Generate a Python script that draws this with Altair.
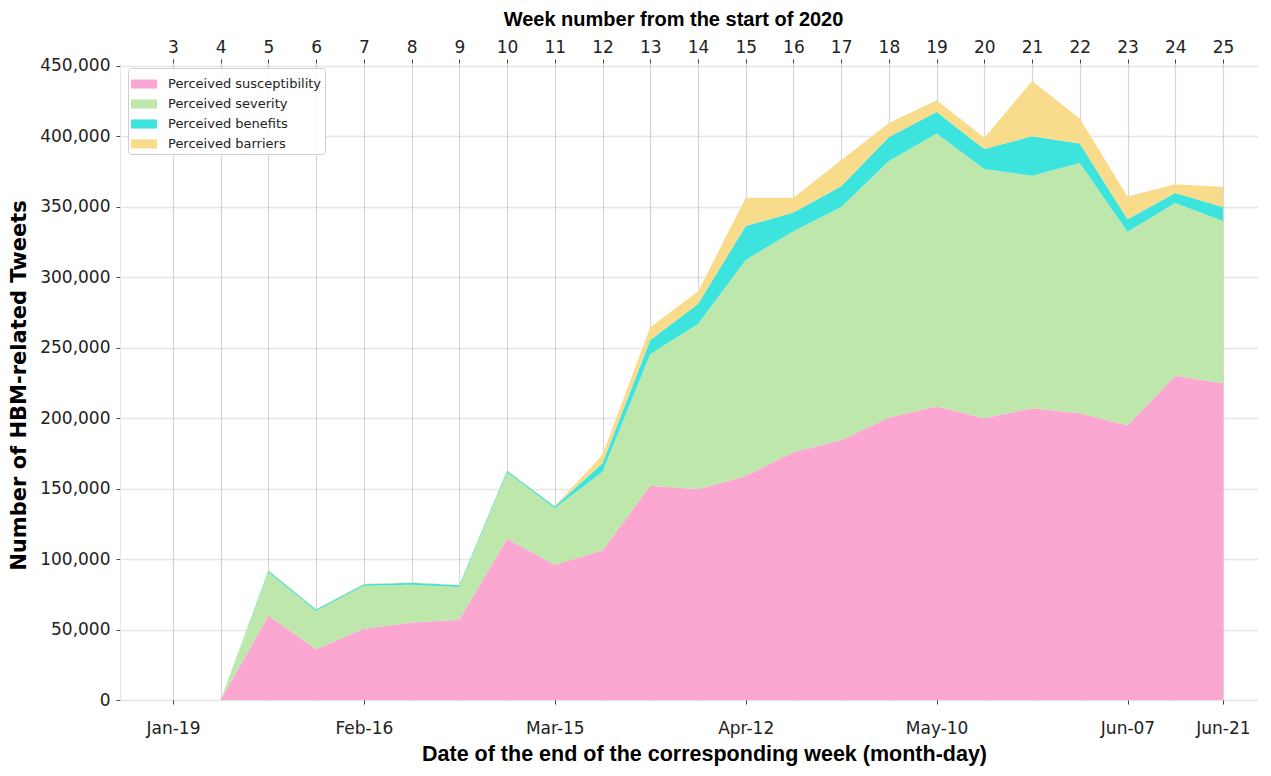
import altair as alt
import pandas as pd

# ---- data ----
weeks = list(range(4, 26))
series_names = ["Perceived susceptibility", "Perceived severity",
                "Perceived benefits", "Perceived barriers"]
susceptibility = [0, 60000, 36000, 50500, 55000, 57000, 114500, 96000, 106000,
                  152000, 149500, 159000, 176000, 184300, 200400, 208400, 200000,
                  207000, 203500, 194800, 230000, 224700]
severity = [0, 30500, 27200, 30500, 26700, 23200, 47000, 40000, 56000,
            93500, 117300, 153300, 156700, 165500, 182100, 193500, 176800,
            165000, 177500, 137400, 122600, 115100]
benefits = [0, 1200, 1100, 1200, 1500, 1200, 1200, 1300, 6000,
            10000, 14200, 24000, 13300, 14700, 17000, 15400, 14200,
            28000, 13800, 9000, 7100, 10000]
barriers = [0, 300, 200, 300, 300, 300, 300, 300, 6000,
            9000, 8800, 20100, 10400, 18500, 10000, 8300, 8000,
            39300, 17800, 16100, 6200, 14200]
colors = ["#FCA6D2", "#BEE7AB", "#3DE3DD", "#F8DC8C"]

top_ticks = list(range(3, 26))
date_weeks = [3, 7, 11, 15, 19, 23, 25]
date_labels = ["Jan-19", "Feb-16", "Mar-15", "Apr-12", "May-10", "Jun-07", "Jun-21"]
y_ticks = list(range(0, 450001, 50000))

rows = []
for i, name in enumerate(series_names):
    vals = [susceptibility, severity, benefits, barriers][i]
    for w, v in zip(weeks, vals):
        rows.append({"week": w, "series": name, "value": v, "order": i})
df = pd.DataFrame(rows)
top_df = pd.DataFrame({"week": top_ticks})

label_map = "{" + ",".join(f"'{w}':'{l}'" for w, l in zip(date_weeks, date_labels)) + "}"

x_scale = alt.Scale(domain=[1.89, 25.734], nice=False, zero=False)
TICK_FONT = "DejaVu Sans"

areas = alt.Chart(df).mark_area(opacity=1, line=False).encode(
    x=alt.X("week:Q", scale=x_scale,
            axis=alt.Axis(values=date_weeks, labelExpr=f"{label_map}[datum.value + '']",
                          orient="bottom", grid=False, domain=False,
                          tickSize=4, tickColor="#444", tickWidth=1,
                          labelFont=TICK_FONT, labelFontSize=17, labelColor="#222",
                          labelPadding=16,
                          title="Date of the end of the corresponding week (month-day)",
                          titleFont="Liberation Sans", titleFontSize=21.5,
                          titleFontWeight="bold", titleColor="#000",
                          titleX=584, titleY=60, titleBaseline="alphabetic")),
    y=alt.Y("value:Q", stack="zero",
            scale=alt.Scale(domain=[0, 452000], nice=False),
            axis=alt.Axis(values=y_ticks, format=",d", grid=True,
                          gridColor="#9a9a9a", gridOpacity=0.25, gridWidth=1.3,
                          domain=True, domainColor="#e6e6e6",
                          tickSize=4, tickColor="#444",
                          labelFont=TICK_FONT, labelFontSize=17, labelColor="#222",
                          labelPadding=6,
                          title="Number of HBM-related Tweets",
                          titleFont="DejaVu Sans", titleFontSize=21,
                          titleFontWeight="bold", titleColor="#000",
                          titleX=-101, titleY=322, titleBaseline="middle")),
    color=alt.Color("series:N",
                    scale=alt.Scale(domain=series_names, range=colors),
                    legend=alt.Legend(title=None, orient="none", legendX=8, legendY=5,
                                      symbolType="M-1,-0.35L1,-0.35L1,0.35L-1,0.35Z",
                                      symbolSize=676, symbolStrokeWidth=0,
                                      symbolOpacity=1,
                                      labelFont=TICK_FONT, labelFontSize=13,
                                      labelColor="#222", labelOffset=11,
                                      padding=3, rowPadding=0,
                                      fillColor="rgba(255,255,255,0.85)",
                                      strokeColor="#d0d0d0", cornerRadius=3)),
    order=alt.Order("order:Q"),
)

top_axis = alt.Chart(top_df).mark_point(opacity=0).encode(
    x=alt.X("week:Q", scale=x_scale,
            axis=alt.Axis(values=top_ticks, orient="top", grid=True,
                          gridColor="#808080", gridOpacity=0.32, gridWidth=1.2,
                          domain=False, tickSize=4, tickColor="#444",
                          labelFont=TICK_FONT, labelFontSize=17, labelColor="#222",
                          labelPadding=3,
                          title="Week number from the start of 2020",
                          titleFont="Liberation Sans", titleFontSize=20,
                          titleFontWeight="bold", titleColor="#000",
                          titleX=553, titleY=-38, titleBaseline="alphabetic")),
)

chart = alt.layer(areas, top_axis).resolve_axis(x="independent").properties(
    width=1138, height=637,
    autosize=alt.AutoSizeParams(type="none"),
    padding={"left": 112, "top": 55, "right": 0, "bottom": 66},
).configure_view(stroke=None).configure_axis(zindex=1)

chart.save("out.html", embed_options={"renderer": "svg", "actions": False})
